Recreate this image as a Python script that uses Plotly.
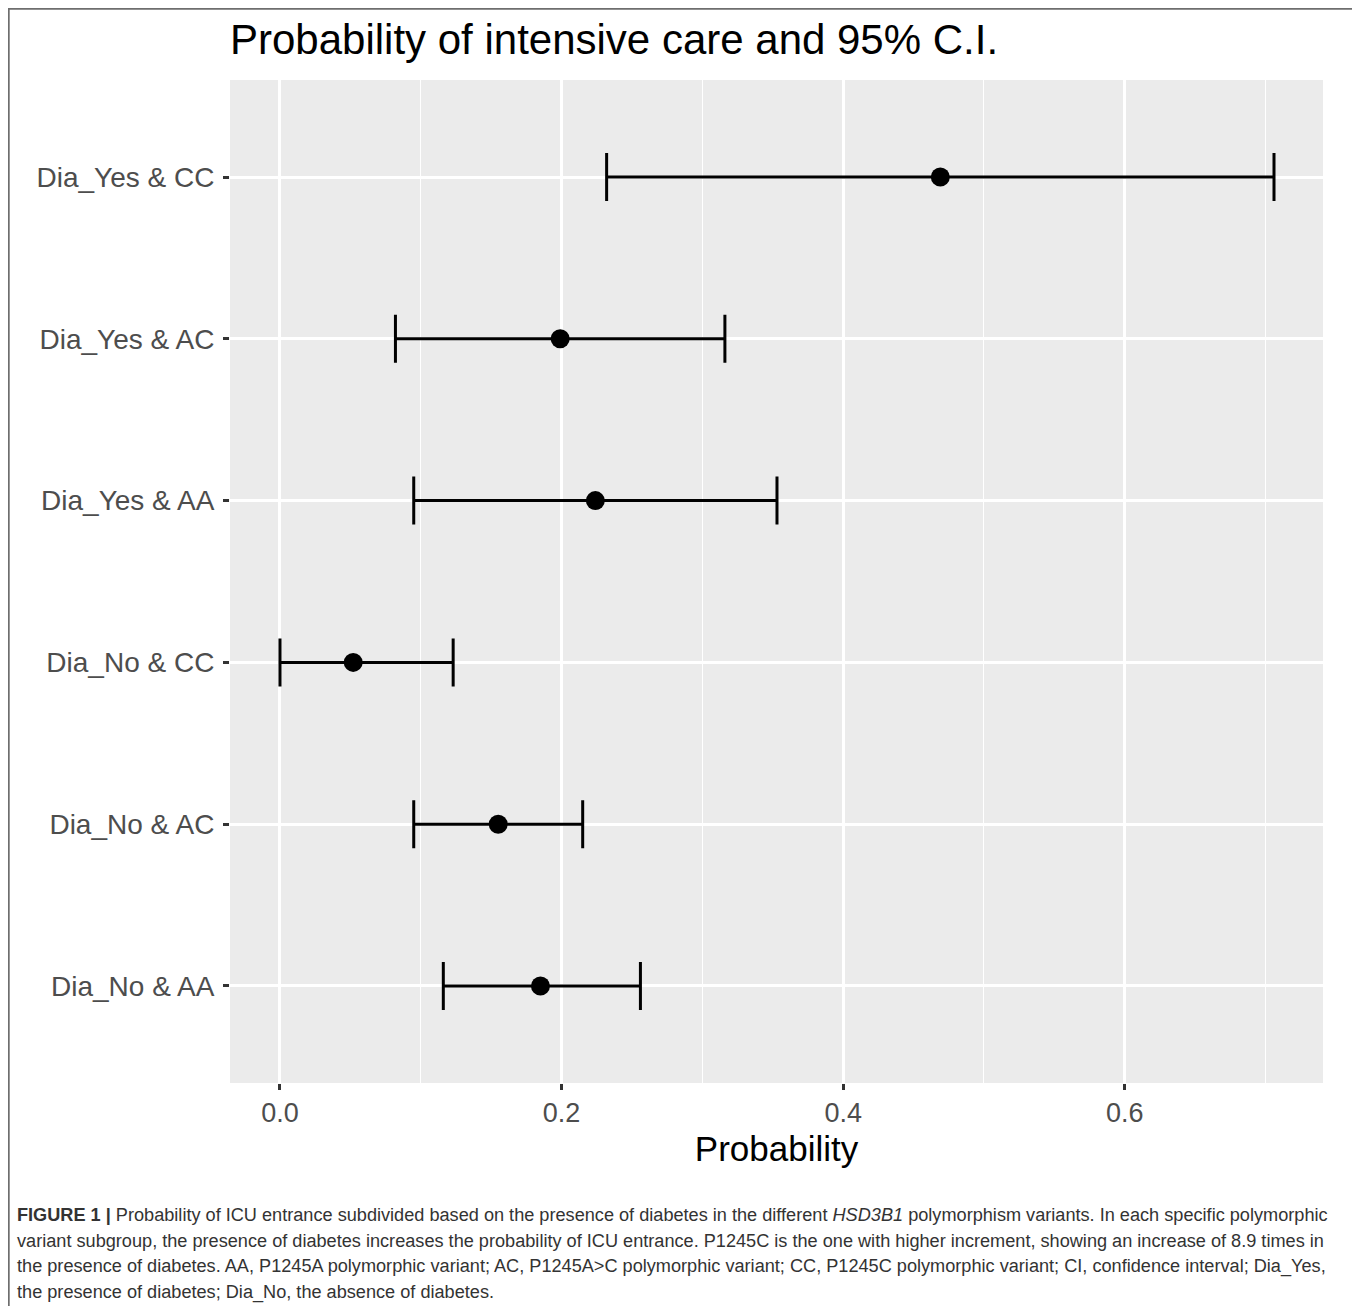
import plotly.graph_objects as go

# ---- data (bottom to top) ----
categories = ["Dia_No & AA", "Dia_No & AC", "Dia_No & CC",
              "Dia_Yes & AA", "Dia_Yes & AC", "Dia_Yes & CC"]
prob = [0.185, 0.155, 0.052, 0.224, 0.199, 0.469]
ci_low = [0.116, 0.095, 0.000, 0.095, 0.082, 0.232]
ci_high = [0.256, 0.215, 0.123, 0.353, 0.316, 0.706]
x_ticks = [0.0, 0.2, 0.4, 0.6]
x_ticklabels = ["0.0", "0.2", "0.4", "0.6"]

title_text = "Probability of intensive care and 95% C.I."
x_title = "Probability"
caption_lines = [
    "<b>FIGURE 1 |</b> Probability of ICU entrance subdivided based on the presence of diabetes in the different <i>HSD3B1</i> polymorphism variants. In each specific polymorphic",
    "variant subgroup, the presence of diabetes increases the probability of ICU entrance. P1245C is the one with higher increment, showing an increase of 8.9 times in",
    "the presence of diabetes. AA, P1245A polymorphic variant; AC, P1245A&gt;C polymorphic variant; CC, P1245C polymorphic variant; CI, confidence interval; Dia_Yes,",
    "the presence of diabetes; Dia_No, the absence of diabetes.",
]

# page body has an 8px margin: work in reference page pixels, offset by 8
OFF = 8
W, H = 1352, 1298
ML, MR, MT, MB = 230 - OFF, 37, 80 - OFF, 223
pw, ph = W - ML - MR, H - MT - MB

def px_to_paper_x(px):
    return (px - OFF - ML) / pw

def px_to_paper_y(py):
    return (H - MB - (py - OFF)) / ph

err_plus = [h - p for h, p in zip(ci_high, prob)]
err_minus = [p - l for p, l in zip(prob, ci_low)]

fig = go.Figure()
fig.add_trace(go.Scatter(
    x=prob, y=categories, mode="markers",
    marker=dict(color="black", size=19),
    error_x=dict(type="data", symmetric=False, array=err_plus, arrayminus=err_minus,
                 color="black", thickness=3, width=24),
    showlegend=False, hoverinfo="x+y",
))

fig.update_layout(
    width=W, height=H,
    margin=dict(l=ML, r=MR, t=MT, b=MB, pad=0),
    paper_bgcolor="white",
    plot_bgcolor="#EBEBEB",
    font=dict(family="Liberation Sans, Arial, sans-serif", color="black"),
    title=dict(text=title_text, x=0, xref="paper", xanchor="left",
               y=1 - (39 - OFF) / H, yref="container", yanchor="middle",
               font=dict(size=42, color="black")),
    xaxis=dict(
        range=[-0.0355, 0.7408], tickvals=x_ticks, ticktext=x_ticklabels,
        showgrid=True, gridcolor="white", gridwidth=2.6,
        minor=dict(dtick=0.1, tick0=0.1, showgrid=True, gridcolor="white", gridwidth=1.3, ticks=""),
        ticks="outside", ticklen=6, tickwidth=2.6, tickcolor="#333333",
        tickfont=dict(size=27, color="#4D4D4D"),
        title=dict(text=x_title, font=dict(size=35, color="black"), standoff=9),
        zeroline=False, showline=False,
    ),
    yaxis=dict(
        type="category", categoryorder="array", categoryarray=categories,
        range=[-0.6, 5.6],
        showgrid=True, gridcolor="white", gridwidth=2.6,
        ticks="outside", ticklen=6, tickwidth=2.6, tickcolor="#333333",
        tickfont=dict(size=28, color="#4D4D4D"), ticklabelstandoff=3,
        zeroline=False, showline=False,
    ),
)

# outer border
fig.add_shape(type="rect", xref="paper", yref="paper",
              x0=px_to_paper_x(8.8), x1=px_to_paper_x(1355),
              y0=px_to_paper_y(1320), y1=px_to_paper_y(8.8),
              line=dict(color="#6E6E6E", width=1.8), fillcolor="rgba(0,0,0,0)", layer="above")

# caption
for i, line in enumerate(caption_lines):
    fig.add_annotation(
        text=line, xref="paper", yref="paper",
        x=px_to_paper_x(15), y=px_to_paper_y(1215 + 25.7 * i),
        xanchor="left", yanchor="middle", showarrow=False, align="left",
        font=dict(size=18.15, color="#333333", family="Liberation Sans, Arial, sans-serif"),
    )

fig.write_html("out.html")
